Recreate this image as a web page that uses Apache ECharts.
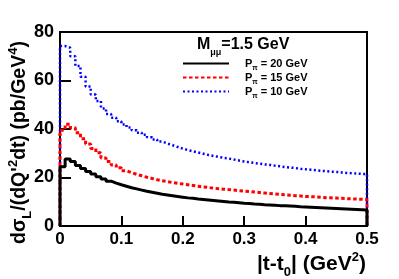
<!DOCTYPE html>
<html>
<head>
<meta charset="utf-8">
<script src="https://cdn.jsdelivr.net/npm/echarts@6/dist/echarts.min.js"></script>
<style>
html,body{margin:0;padding:0;background:#fff;}
#c{width:399px;height:279px;}
</style>
</head>
<body>
<div id="c"></div>
<script>
// |t-t0| histogram: 60 bins from 0 to 0.5 GeV^2
const tMin = 0;
const tMax = 0.5;
const nBins = 60;
const xTicks = [0, 0.1, 0.2, 0.3, 0.4, 0.5];
const yTicks = [0, 20, 40, 60, 80];
const seriesNames = ['P20', 'P15', 'P10'];
const legendLabels = ['P{sub|π} = 20 GeV', 'P{sub|π} = 15 GeV', 'P{sub|π} = 10 GeV'];

const p20 = [24.4,27.6,26.6,25.0,23.7,22.5,21.4,20.3,19.4,18.5,
             17.7,17.0,16.4,15.8,15.3,14.8,14.3,13.9,13.5,13.1,
             12.8,12.5,12.2,11.9,11.6,11.4,11.1,10.9,10.7,10.5,
             10.3,10.1,9.9,9.8,9.6,9.4,9.3,9.1,9.0,8.8,
             8.7,8.6,8.4,8.3,8.2,8.1,7.9,7.8,7.7,7.6,
             7.5,7.4,7.3,7.2,7.1,7.0,6.9,6.8,6.7,6.6];
const p15 = [39.5,42.0,40.5,38.5,36.0,33.8,32.0,30.2,28.0,26.6,
             25.2,24.0,22.8,22.0,21.3,20.7,20.1,19.6,19.1,18.7,
             18.3,17.9,17.6,17.3,17.0,16.7,16.4,16.1,15.9,15.6,
             15.4,15.2,15.0,14.8,14.6,14.4,14.2,14.0,13.8,13.6,
             13.4,13.2,13.0,12.9,12.7,12.5,12.4,12.2,12.1,12.0,
             11.8,11.7,11.6,11.5,11.4,11.3,11.2,11.1,11.0,10.9];
const p10 = [74.2,73.5,70.0,66.0,61.5,57.5,54.2,51.5,48.5,46.2,
             44.6,43.2,41.9,40.6,39.5,38.5,37.6,36.6,35.7,34.8,
             34.0,33.3,32.6,31.9,31.3,30.8,30.3,29.8,29.3,28.9,
             28.5,28.1,27.8,27.4,27.0,26.6,26.3,26.0,25.7,25.4,
             25.2,24.9,24.6,24.3,24.1,23.9,23.6,23.4,23.2,23.0,
             22.8,22.6,22.4,22.3,22.1,21.9,21.8,21.6,21.5,21.4];

const FONT = 'Liberation Sans, Arial, Helvetica, sans-serif';
const binW = (tMax - tMin) / nBins;

function histData(vals) {
  const d = [[tMin, 0]];
  vals.forEach((v, i) => d.push([tMin + i * binW, v]));
  d.push([tMax, vals[vals.length - 1]]);
  d.push([tMax, 0]);
  return d;
}

const chart = echarts.init(document.getElementById('c'), null, {renderer: 'canvas'});
const subStyle = {fontSize: 7, fontFamily: FONT, fontWeight: 'bold', color: '#000', verticalAlign: 'bottom', padding: [0, 0, -3, 0]};

chart.setOption({
  animation: false,
  backgroundColor: '#fff',
  grid: {left: 60, top: 32, right: 32, bottom: 53, show: true, borderColor: '#000', borderWidth: 2, backgroundColor: 'transparent'},
  xAxis: {
    type: 'value', min: tMin, max: tMax, interval: 0.1,
    axisLine: {show: true, onZero: false, lineStyle: {color: '#000', width: 2}},
    axisTick: {show: true, inside: true, length: 10, lineStyle: {color: '#000', width: 2}},
    splitLine: {show: false},
    axisLabel: {color: '#000', fontFamily: FONT, fontWeight: 'bold', fontSize: 17, margin: 5,
      formatter: v => xTicks.indexOf(Math.round(v * 10) / 10) >= 0 ? String(Math.round(v * 10) / 10) : ''}
  },
  yAxis: {
    type: 'value', min: 0, max: 80, interval: 20,
    axisLine: {show: true, onZero: false, lineStyle: {color: '#000', width: 2}},
    axisTick: {show: true, inside: true, length: 11, lineStyle: {color: '#000', width: 2}},
    splitLine: {show: false},
    axisLabel: {color: '#000', fontFamily: FONT, fontWeight: 'bold', fontSize: 18, margin: 6,
      formatter: v => yTicks.indexOf(v) >= 0 ? String(v) : ''}
  },
  legend: {
    orient: 'vertical', left: 182, top: 58, padding: 0, itemWidth: 46, itemHeight: 12, itemGap: 0,
    data: seriesNames,
    itemStyle: {opacity: 0},
    formatter: name => legendLabels[seriesNames.indexOf(name)],
    textStyle: {color: '#000', fontFamily: FONT, fontWeight: 'bold', fontSize: 11, padding: [0, 0, 0, 11],
      rich: {sub: subStyle}}
  },
  graphic: [
    {
      type: 'text', left: 197, top: 37,
      style: {
        text: 'M{sub|μμ}=1.5 GeV',
        fill: '#000', font: 'bold 16px ' + FONT,
        rich: {sub: {fontSize: 9, fontFamily: FONT, fontWeight: 'bold', fill: '#000', verticalAlign: 'bottom', padding: [0, 0, -4, 0]}}
      }
    },
    {
      type: 'text', x: 366, y: 264,
      style: {
        text: '|t-t{sub|0}| (GeV{sup|2})',
        fill: '#000', font: 'bold 21px ' + FONT, align: 'right', verticalAlign: 'middle',
        rich: {
          sub: {fontSize: 13, fontFamily: FONT, fontWeight: 'bold', fill: '#000', verticalAlign: 'bottom', padding: [0, 0, -4, 0]},
          sup: {fontSize: 13, fontFamily: FONT, fontWeight: 'bold', fill: '#000', verticalAlign: 'top', padding: [-3, 0, 0, 0]}
        }
      }
    },
    {
      type: 'text', x: 20, y: 142.5, rotation: Math.PI / 2,
      style: {
        text: 'dσ{sub|L}/(dQ\'{sup|2}dt) (pb/GeV{sup|4})',
        fill: '#000', font: 'bold 19.5px ' + FONT, align: 'center', verticalAlign: 'middle',
        rich: {
          sub: {fontSize: 13, fontFamily: FONT, fontWeight: 'bold', fill: '#000', verticalAlign: 'bottom', padding: [0, 0, -4, 0]},
          sup: {fontSize: 13, fontFamily: FONT, fontWeight: 'bold', fill: '#000', verticalAlign: 'top', padding: [-3, 0, 0, 0]}
        }
      }
    }
  ],
  series: [
    {name: seriesNames[2], type: 'line', step: 'end', symbol: 'none', data: histData(p10),
     lineStyle: {color: '#0000ff', width: 2.5, type: [2, 2.5]}, itemStyle: {color: '#0000ff'}, z: 3},
    {name: seriesNames[1], type: 'line', step: 'end', symbol: 'none', data: histData(p15),
     lineStyle: {color: '#ff0000', width: 3, type: [3.5, 2.5]}, itemStyle: {color: '#ff0000'}, z: 4},
    {name: seriesNames[0], type: 'line', step: 'end', symbol: 'none', data: histData(p20),
     lineStyle: {color: '#000000', width: 3, type: 'solid'}, itemStyle: {color: '#000'}, z: 5}
  ]
});
</script>
</body>
</html>
